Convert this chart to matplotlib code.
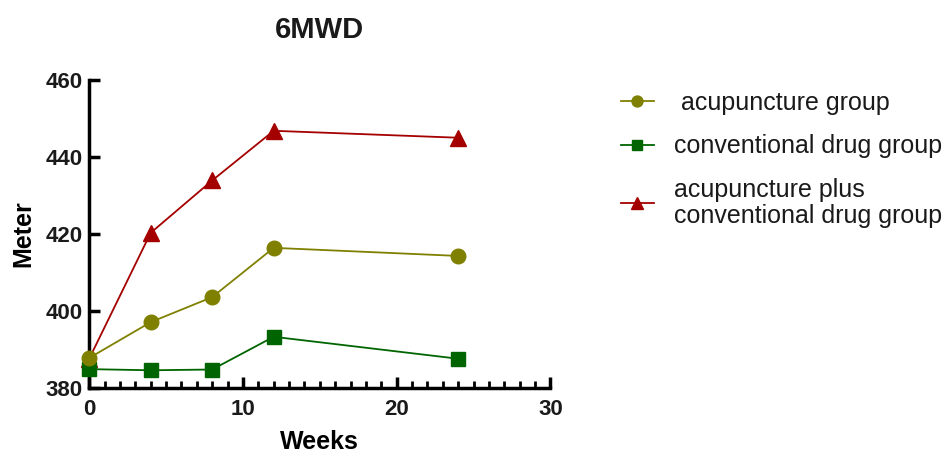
import matplotlib.pyplot as plt
from matplotlib.ticker import MultipleLocator

plt.rcParams['font.family'] = ['Liberation Sans', 'DejaVu Sans']
plt.rcParams['text.color'] = '#1a1a1a'
plt.rcParams['xtick.labelcolor'] = '#1a1a1a'
plt.rcParams['ytick.labelcolor'] = '#1a1a1a'

weeks = [0, 4, 8, 12, 24]
acup = [387.8, 397.1, 403.6, 416.4, 414.3]
drug = [384.9, 384.6, 384.8, 393.3, 387.6]
combo = [387.6, 420.3, 433.9, 446.8, 445.0]

fig = plt.figure(figsize=(9.49, 4.57), dpi=100)
ax = fig.add_axes([0.094, 0.151, 0.486, 0.674])

ax.plot(weeks, acup, '-o', color='#808000', lw=1.3, ms=10.5, label=' acupuncture group', clip_on=False, zorder=4)
ax.plot(weeks, drug, '-s', color='#006400', lw=1.3, ms=9.5, label='conventional drug group', clip_on=False, zorder=3)
ax.plot(weeks, combo, '-^', color='#A50000', lw=1.3, ms=11, label='acupuncture plus\nconventional drug group', clip_on=False, zorder=2)

ax.set_xlim(0, 30)
ax.set_ylim(380, 460)
ax.xaxis.set_major_locator(MultipleLocator(10))
ax.xaxis.set_minor_locator(MultipleLocator(1))
ax.yaxis.set_major_locator(MultipleLocator(20))

for s in ['top', 'right']:
    ax.spines[s].set_visible(False)
for s in ['left', 'bottom']:
    ax.spines[s].set_linewidth(2.5)
ax.tick_params(axis='y', which='major', direction='in', length=8, width=2.5, labelsize=16, pad=5)
ax.tick_params(axis='x', which='major', direction='in', length=8, width=2.5, labelsize=16, pad=8)
ax.tick_params(which='minor', direction='in', length=5, width=2)
for lab in ax.get_xticklabels() + ax.get_yticklabels():
    lab.set_fontweight('bold')

ax.set_title('6MWD', fontsize=21, fontweight='bold', pad=30)
ax.set_xlabel('Weeks', fontsize=18, fontweight='bold', labelpad=7)
ax.set_ylabel('Meter', fontsize=18, fontweight='bold', labelpad=7)

leg = ax.legend(loc='upper left', bbox_to_anchor=(1.152, 0.965), frameon=False, fontsize=18,
                handlelength=1.35, labelspacing=0.78, handletextpad=0.8, markerscale=0.75,
                borderpad=0, borderaxespad=0)
leg.get_texts()[2].set_linespacing(1.1)

fig.savefig('out.png', dpi=100)
